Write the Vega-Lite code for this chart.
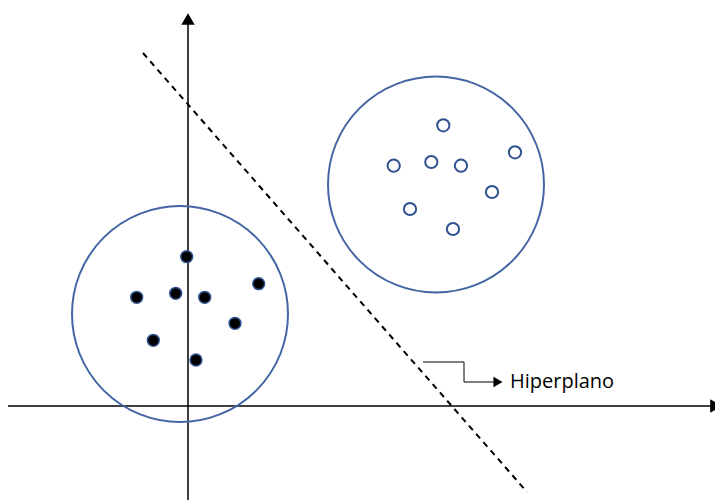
{
  "$schema": "https://vega.github.io/schema/vega-lite/v6.json",
  "width": 715,
  "height": 500,
  "padding": 0,
  "autosize": {"type": "none"},
  "background": "white",
  "config": {"view": {"stroke": null}},
  "datasets": {
    "axes": [
      {"x": -180, "y": 0, "x2": 524, "y2": 0},
      {"x": 0, "y": -94, "x2": 0, "y2": 386}
    ],
    "hyper": [
      {"x": -45, "y": 353, "x2": 339, "y2": -86}
    ],
    "clusters": [
      {"x": -8, "y": 92},
      {"x": 248, "y": 221.5}
    ],
    "filled": [
      {"x": -1.3, "y": 149.3},
      {"x": -51.3, "y": 108.7},
      {"x": -12.3, "y": 112.7},
      {"x": 16.7, "y": 108.7},
      {"x": 70.7, "y": 122.3},
      {"x": 47, "y": 82.7},
      {"x": -34.7, "y": 65.7},
      {"x": 8, "y": 46}
    ],
    "open": [
      {"x": 255.3, "y": 280.7},
      {"x": 205.7, "y": 240.3},
      {"x": 243.3, "y": 244},
      {"x": 273, "y": 240.3},
      {"x": 327, "y": 253.7},
      {"x": 304, "y": 214},
      {"x": 222, "y": 197},
      {"x": 265, "y": 177}
    ],
    "callout": [
      {"x": 235, "y": 44, "o": 1},
      {"x": 276, "y": 44, "o": 2},
      {"x": 276, "y": 24, "o": 3},
      {"x": 306, "y": 24, "o": 4}
    ],
    "arrowUp": [{"x": 0, "y": 387}],
    "arrowRight": [{"x": 528, "y": 0}],
    "arrowCallout": [{"x": 310, "y": 24}],
    "label": [{"x": 322, "y": 24, "t": "Hiperplano"}]
  },
  "encoding": {
    "x": {"field": "x", "type": "quantitative", "scale": {"domain": [-188, 527], "nice": false, "zero": false}, "axis": null},
    "y": {"field": "y", "type": "quantitative", "scale": {"domain": [-94, 406], "nice": false, "zero": false}, "axis": null}
  },
  "layer": [
    {
      "data": {"name": "axes"},
      "mark": {"type": "rule", "color": "black", "strokeWidth": 1.5},
      "encoding": {"x2": {"field": "x2"}, "y2": {"field": "y2"}}
    },
    {
      "data": {"name": "hyper"},
      "mark": {"type": "rule", "color": "black", "strokeWidth": 2, "strokeDash": [6, 5]},
      "encoding": {"x2": {"field": "x2"}, "y2": {"field": "y2"}}
    },
    {
      "data": {"name": "clusters"},
      "mark": {"type": "point", "shape": "circle", "size": 46656, "filled": false, "stroke": "#4366A3", "strokeWidth": 2, "opacity": 1}
    },
    {
      "data": {"name": "filled"},
      "mark": {"type": "point", "shape": "circle", "size": 140, "filled": true, "fill": "black", "stroke": "#2F528F", "strokeWidth": 1.5, "opacity": 1}
    },
    {
      "data": {"name": "open"},
      "mark": {"type": "point", "shape": "circle", "size": 150, "filled": false, "fill": "white", "stroke": "#2F528F", "strokeWidth": 2, "opacity": 1}
    },
    {
      "data": {"name": "callout"},
      "mark": {"type": "line", "color": "black", "strokeWidth": 1, "interpolate": "linear"},
      "encoding": {"order": {"field": "o", "type": "quantitative"}}
    },
    {
      "data": {"name": "arrowUp"},
      "mark": {"type": "point", "shape": "triangle-up", "size": 180, "filled": true, "color": "black", "opacity": 1}
    },
    {
      "data": {"name": "arrowRight"},
      "mark": {"type": "point", "shape": "triangle-right", "size": 180, "filled": true, "color": "black", "opacity": 1}
    },
    {
      "data": {"name": "arrowCallout"},
      "mark": {"type": "point", "shape": "triangle-right", "size": 110, "filled": true, "color": "black", "opacity": 1}
    },
    {
      "data": {"name": "label"},
      "mark": {"type": "text", "align": "left", "baseline": "middle", "font": "Open Sans", "fontSize": 20, "color": "black"},
      "encoding": {"text": {"field": "t"}}
    }
  ]
}
